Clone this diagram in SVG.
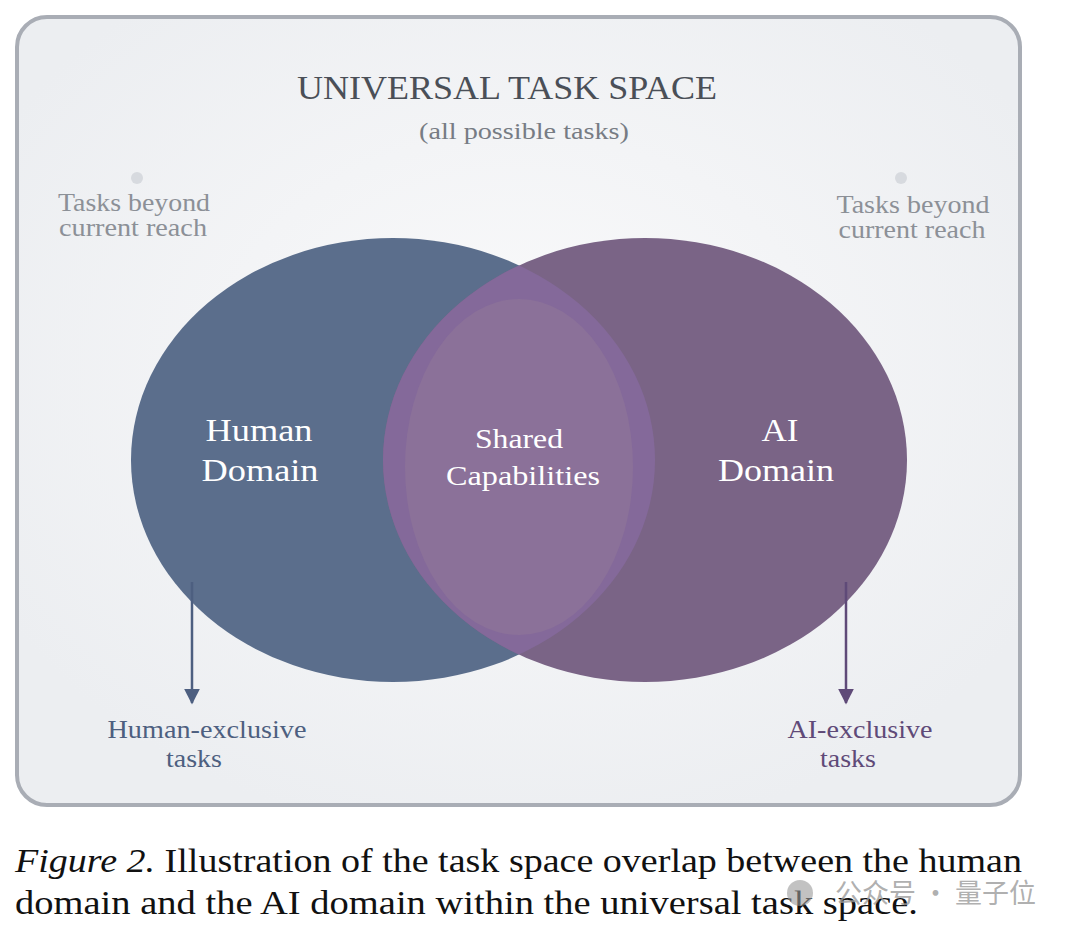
<svg xmlns="http://www.w3.org/2000/svg" width="1080" height="939" viewBox="0 0 1080 939">
<defs>
<radialGradient id="bg" cx="50%" cy="45%" r="60%"><stop offset="0" stop-color="#fafafb"/><stop offset="1" stop-color="#eceef1"/></radialGradient>
<clipPath id="cl"><ellipse cx="393" cy="460" rx="262" ry="222"/></clipPath>
<marker id="ah1" viewBox="0 0 10 10" refX="9" refY="5" markerWidth="16" markerHeight="20" markerUnits="userSpaceOnUse" orient="auto"><path d="M0,0 L10,5 L0,10 Z" fill="#4d5f80"/></marker>
<marker id="ah2" viewBox="0 0 10 10" refX="9" refY="5" markerWidth="16" markerHeight="20" markerUnits="userSpaceOnUse" orient="auto"><path d="M0,0 L10,5 L0,10 Z" fill="#5f4a78"/></marker>
</defs>
<style>
.s{font-family:"Liberation Serif",serif}
.w{fill:#fff;text-anchor:middle}
.g{fill:#8c9097;text-anchor:middle;font-size:25px}
</style>
<rect width="1080" height="939" fill="#fff"/>
<rect x="17" y="17" width="1003" height="788" rx="30" fill="url(#bg)" stroke="#a9adb5" stroke-width="4"/>
<text class="s" x="507" y="99" text-anchor="middle" font-size="34" fill="#4a4f57" textLength="420" lengthAdjust="spacingAndGlyphs">UNIVERSAL TASK SPACE</text>
<text class="s" x="524" y="139" text-anchor="middle" font-size="23" fill="#777c84" textLength="210" lengthAdjust="spacingAndGlyphs">(all possible tasks)</text>
<circle cx="137" cy="178" r="6" fill="#d7dadf"/>
<circle cx="901" cy="178" r="6" fill="#d7dadf"/>
<text class="s g" x="134" y="211" textLength="152" lengthAdjust="spacingAndGlyphs">Tasks beyond</text>
<text class="s g" x="133" y="236" textLength="148" lengthAdjust="spacingAndGlyphs">current reach</text>
<text class="s g" x="913" y="213" textLength="153" lengthAdjust="spacingAndGlyphs">Tasks beyond</text>
<text class="s g" x="912" y="238" textLength="147" lengthAdjust="spacingAndGlyphs">current reach</text>
<g id="human"><ellipse cx="393" cy="460" rx="262" ry="222" fill="#5b6e8c"/></g>
<g id="ai"><ellipse cx="645" cy="460" rx="262" ry="222" fill="#7a6486"/></g>
<g id="shared">
<ellipse cx="645" cy="460" rx="262" ry="222" fill="#84699a" clip-path="url(#cl)"/>
<ellipse cx="519" cy="467" rx="114" ry="168" fill="#8b7199"/>
</g>
<text class="s w" x="259" y="441" font-size="32" textLength="107" lengthAdjust="spacingAndGlyphs">Human</text>
<text class="s w" x="260" y="481" font-size="32" textLength="117" lengthAdjust="spacingAndGlyphs">Domain</text>
<text class="s w" x="519" y="448" font-size="28" textLength="88" lengthAdjust="spacingAndGlyphs">Shared</text>
<text class="s w" x="523" y="485" font-size="28" textLength="154" lengthAdjust="spacingAndGlyphs">Capabilities</text>
<text class="s w" x="780" y="441" font-size="32" textLength="37" lengthAdjust="spacingAndGlyphs">AI</text>
<text class="s w" x="776" y="481" font-size="32" textLength="116" lengthAdjust="spacingAndGlyphs">Domain</text>
<g id="connectors">
<line x1="192" y1="582" x2="192" y2="703" stroke="#4d5f80" stroke-width="2.5" marker-end="url(#ah1)"/>
<line x1="846" y1="582" x2="846" y2="703" stroke="#5f4a78" stroke-width="2.5" marker-end="url(#ah2)"/>
</g>
<text class="s" x="207" y="738" text-anchor="middle" font-size="25" fill="#4d5f80" textLength="199" lengthAdjust="spacingAndGlyphs">Human-exclusive</text>
<text class="s" x="194" y="767" text-anchor="middle" font-size="25" fill="#4d5f80" textLength="56" lengthAdjust="spacingAndGlyphs">tasks</text>
<text class="s" x="860" y="738" text-anchor="middle" font-size="25" fill="#5f4a78" textLength="145" lengthAdjust="spacingAndGlyphs">AI-exclusive</text>
<text class="s" x="848" y="767" text-anchor="middle" font-size="25" fill="#5f4a78" textLength="56" lengthAdjust="spacingAndGlyphs">tasks</text>
<text class="s" x="15" y="872" font-size="34" fill="#111" textLength="1007" lengthAdjust="spacingAndGlyphs"><tspan font-style="italic">Figure 2.</tspan> Illustration of the task space overlap between the human</text>
<text class="s" x="15" y="914" font-size="34" fill="#111" textLength="903" lengthAdjust="spacingAndGlyphs">domain and the AI domain within the universal task space.</text>
<circle cx="800" cy="893" r="13" fill="#9a9a9a" fill-opacity="0.6"/>
<text x="835" y="903" font-family="'Noto Sans CJK SC',sans-serif" font-size="27" fill="#9a9a9a" fill-opacity="0.8">公众号 · 量子位</text>
</svg>
